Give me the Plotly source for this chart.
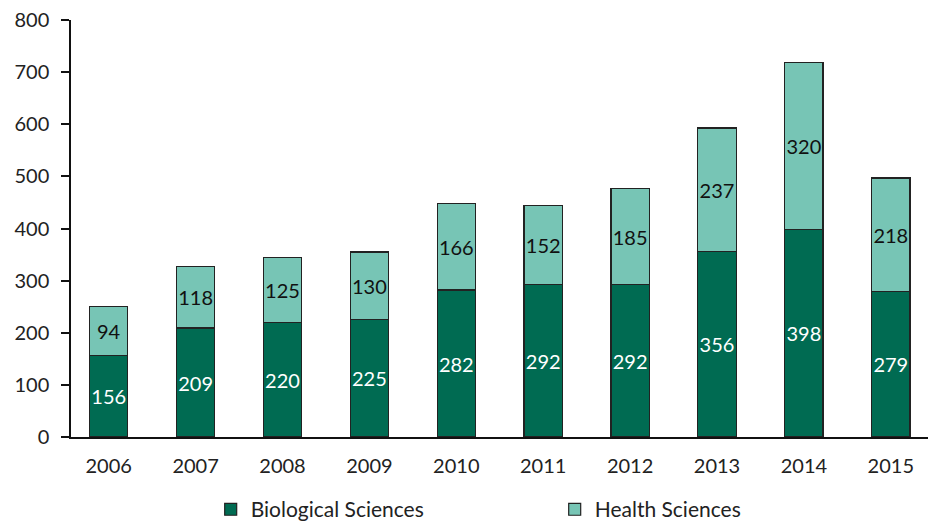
import plotly.graph_objects as go

years = ["2006", "2007", "2008", "2009", "2010", "2011", "2012", "2013", "2014", "2015"]
biological = [156, 209, 220, 225, 282, 292, 292, 356, 398, 279]
health = [94, 118, 125, 130, 166, 152, 185, 237, 320, 218]
y_ticks = [0, 100, 200, 300, 400, 500, 600, 700, 800]

DARK = "#006B52"
LIGHT = "#77C5B5"
FONT = "Lato"

fig = go.Figure()
fig.add_trace(go.Bar(
    x=years, y=biological, name="Biological Sciences",
    marker=dict(color=DARK, line=dict(color="#222222", width=1.2)),
    text=biological, textposition="inside", insidetextanchor="middle", textangle=0,
    textfont=dict(color="white", size=20, family=FONT),
    constraintext="none", width=0.44,
))
fig.add_trace(go.Bar(
    x=years, y=health, name="Health Sciences",
    marker=dict(color=LIGHT, line=dict(color="#222222", width=1.2)),
    text=health, textposition="inside", insidetextanchor="middle", textangle=0,
    textfont=dict(color="#111111", size=20, family=FONT),
    constraintext="none", width=0.44,
))

fig.update_layout(
    barmode="stack",
    width=928, height=521,
    margin=dict(l=71, r=0, t=20, b=84, autoexpand=False),
    paper_bgcolor="white", plot_bgcolor="white",
    font=dict(family=FONT, size=20, color="#222222"),
    showlegend=True,
    legend=dict(orientation="h", x=0.163, xanchor="left", y=-0.125, yanchor="top",
                entrywidth=299, entrywidthmode="pixels",
                font=dict(size=21, family=FONT, color="#222222"),
                traceorder="normal"),
    xaxis=dict(showline=True, linecolor="#111111", linewidth=1.5, ticks="",
               range=[-0.434, 9.428],
               showgrid=False, tickfont=dict(size=20), ticklabelstandoff=10),
    yaxis=dict(range=[0, 800], tickvals=y_ticks, showline=True, linecolor="#111111",
               linewidth=1.5, ticks="outside", ticklen=8, tickcolor="#111111",
               tickwidth=1.5, showgrid=False, zeroline=False, tickfont=dict(size=20),
               ticklabelstandoff=8),
)

fig.write_html("out.html", config={"displayModeBar": False},
               post_script="document.body.style.margin='0';")
